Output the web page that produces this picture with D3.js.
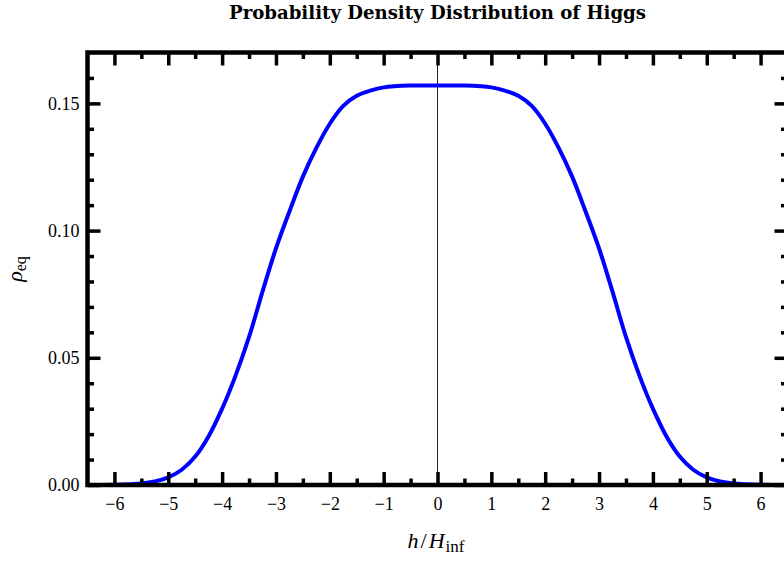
<!DOCTYPE html>
<html>
<head>
<meta charset="utf-8">
<script src="https://cdn.jsdelivr.net/npm/d3@7"></script>
<style>
  html, body { margin: 0; padding: 0; background: #fff; }
  svg { display: block; }
  text { font-family: "Liberation Serif", "Times New Roman", serif; fill: #000; }
</style>
</head>
<body>
<svg id="chart" width="784" height="563"></svg>
<script>
// ---- data ----
const hValues = [-6.5, -6, -5.5, -5.25, -5, -4.75, -4.5, -4.25, -4, -3.75, -3.5, -3.25, -3, -2.75, -2.5, -2.25, -2, -1.75, -1.5, -1.25, -1, -0.5, 0,
                 0.5, 1, 1.25, 1.5, 1.75, 2, 2.25, 2.5, 2.75, 3, 3.25, 3.5, 3.75, 4, 4.25, 4.5, 4.75, 5, 5.25, 5.5, 6, 6.5];
const rhoValues = [0.0000, 0.0001, 0.0006, 0.0014, 0.0030, 0.0060, 0.0112, 0.0192, 0.0300, 0.0430, 0.0582, 0.0760, 0.0930, 0.1075, 0.1212, 0.1325, 0.1420, 0.1490, 0.1530, 0.1550, 0.1563, 0.1570, 0.1570,
                   0.1570, 0.1563, 0.1550, 0.1530, 0.1490, 0.1420, 0.1325, 0.1212, 0.1075, 0.0930, 0.0760, 0.0582, 0.0430, 0.0300, 0.0192, 0.0112, 0.0060, 0.0030, 0.0014, 0.0006, 0.0001, 0.0000];
const xMajorTicks = [-6, -5, -4, -3, -2, -1, 0, 1, 2, 3, 4, 5, 6];
const xMinorTicks = [-5.5, -4.5, -3.5, -2.5, -1.5, -0.5, 0.5, 1.5, 2.5, 3.5, 4.5, 5.5];
const yMajorTicks = [0, 0.05, 0.10, 0.15];
const yMinorTicks = [0.01, 0.02, 0.03, 0.04, 0.06, 0.07, 0.08, 0.09, 0.11, 0.12, 0.13, 0.14, 0.16];
const titleText = "Probability Density Distribution of Higgs";

(function () {
const data = hValues.map((h, i) => ({ h, rho: rhoValues[i] }));

const svg = d3.select("#chart");
const pL = 87.5, pR = 787.5, pT = 52.5, pB = 485;

const x = d3.scaleLinear().domain([-6.5, 6.5]).range([pL, pR]);
const y = d3.scaleLinear().domain([0, 0.17]).range([pB, pT]);

svg.append("rect").attr("width", 784).attr("height", 563).attr("fill", "#fff");

// zero axis line (vertical)
svg.append("line")
  .attr("x1", x(0)).attr("x2", x(0))
  .attr("y1", pT).attr("y2", pB)
  .attr("stroke", "#222").attr("stroke-width", 1);

// curve
const line = d3.line().x(d => x(d.h)).y(d => y(Math.max(0, d.rho))).curve(d3.curveCatmullRom.alpha(0.5));
svg.append("path").datum(data)
  .attr("d", line)
  .attr("fill", "none")
  .attr("stroke", "#0000ff")
  .attr("stroke-width", 4)
  .attr("stroke-linejoin", "round");

const MAJ = 13, MIN = 6.5, TW = 3.5;

function styleAxis(g) {
  g.select(".domain").remove();
  g.selectAll(".tick line").attr("stroke", "#000").attr("stroke-width", TW);
  g.selectAll(".tick text").style("font-size", "18px").style("font-family", "'Liberation Serif', serif");
}

// bottom
svg.append("g").attr("transform", `translate(0,${pB})`)
  .call(d3.axisBottom(x).tickValues(xMajorTicks).tickSizeInner(-MAJ).tickSizeOuter(0).tickPadding(12).tickFormat(d3.format("d")))
  .call(styleAxis);
svg.append("g").attr("transform", `translate(0,${pB})`)
  .call(d3.axisBottom(x).tickValues(xMinorTicks).tickSizeInner(-MIN).tickSizeOuter(0).tickFormat(""))
  .call(styleAxis);
// top
svg.append("g").attr("transform", `translate(0,${pT})`)
  .call(d3.axisTop(x).tickValues(xMajorTicks).tickSizeInner(-MAJ).tickSizeOuter(0).tickFormat(""))
  .call(styleAxis);
svg.append("g").attr("transform", `translate(0,${pT})`)
  .call(d3.axisTop(x).tickValues(xMinorTicks).tickSizeInner(-MIN).tickSizeOuter(0).tickFormat(""))
  .call(styleAxis);
// left
svg.append("g").attr("transform", `translate(${pL},0)`)
  .call(d3.axisLeft(y).tickValues(yMajorTicks).tickSizeInner(-MAJ).tickSizeOuter(0).tickPadding(8).tickFormat(d3.format(".2f")))
  .call(styleAxis);
svg.append("g").attr("transform", `translate(${pL},0)`)
  .call(d3.axisLeft(y).tickValues(yMinorTicks).tickSizeInner(-MIN).tickSizeOuter(0).tickFormat(""))
  .call(styleAxis);
// right
svg.append("g").attr("transform", `translate(${pR},0)`)
  .call(d3.axisRight(y).tickValues(yMajorTicks).tickSizeInner(-MAJ).tickSizeOuter(0).tickFormat(""))
  .call(styleAxis);
svg.append("g").attr("transform", `translate(${pR},0)`)
  .call(d3.axisRight(y).tickValues(yMinorTicks).tickSizeInner(-MIN).tickSizeOuter(0).tickFormat(""))
  .call(styleAxis);

// frame
svg.append("rect")
  .attr("x", pL).attr("y", pT)
  .attr("width", pR - pL).attr("height", pB - pT)
  .attr("fill", "none").attr("stroke", "#000").attr("stroke-width", 4.5);

// title
svg.append("text")
  .attr("x", 437.5).attr("y", 18.5)
  .attr("text-anchor", "middle")
  .attr("textLength", 417).attr("lengthAdjust", "spacingAndGlyphs")
  .style("font-size", "18px").style("font-weight", "bold")
  .style("font-family", "'DejaVu Serif', serif")
  .text(titleText);

// x label: h/H_inf
const xl = svg.append("text").attr("x", 436).attr("y", 547.5).attr("text-anchor", "middle").style("font-size", "22px");
xl.append("tspan").style("font-style", "italic").text("h");
xl.append("tspan").attr("dx", 2).text("/");
xl.append("tspan").attr("dx", 2).style("font-style", "italic").text("H");
xl.append("tspan").attr("dx", 1).attr("dy", 4).style("font-size", "17px").text("inf");

// y label: rho_eq
const yl = svg.append("text").attr("transform", "translate(22,269) rotate(-90)").attr("text-anchor", "middle").style("font-size", "22px");
yl.append("tspan").style("font-style", "italic").text("ρ");
yl.append("tspan").attr("dy", 4).style("font-size", "16px").text("eq");
})();
</script>
</body>
</html>
